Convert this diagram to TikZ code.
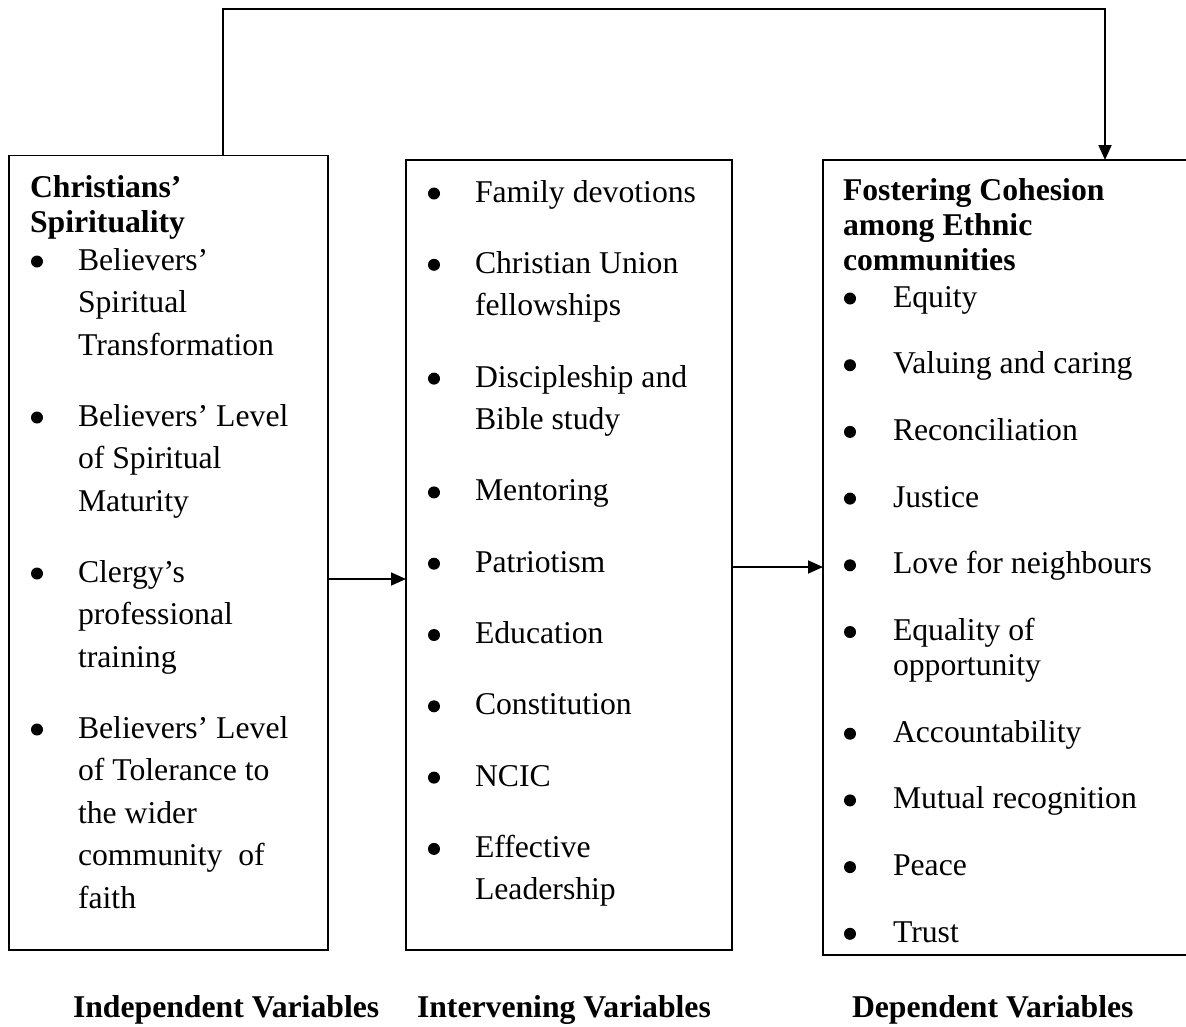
\documentclass[tikz,border=0pt]{standalone}
\usepackage{fontspec}
\setmainfont{Liberation Serif}
\usetikzlibrary{arrows.meta}
\begin{document}
\begin{tikzpicture}[x=1pt,y=-1pt,
  box/.style={draw=black, line width=1.8pt, inner sep=0pt, outer sep=0pt},
  txt/.style={anchor=base west, inner sep=0pt, outer sep=0pt, font=\fontsize{31.7pt}{42.5pt}\selectfont},
  hd/.style={txt, font=\fontsize{31.7pt}{35pt}\selectfont\bfseries},
  dot/.style={circle, fill=black, inner sep=0pt, minimum size=12pt},
  arr/.style={-{Triangle[length=15pt,width=13pt]}, line width=1.8pt}]
\useasboundingbox (0,0) rectangle (1186,1026);
\clip (0,0) rectangle (1186,1026);

% boxes
\node[box, minimum width=319pt, minimum height=794.5pt] (box1) at (168.5,552.75) {};
\node[box, minimum width=326pt, minimum height=790pt] (box2) at (569,555) {};
\node[box, minimum width=369pt, minimum height=795pt] (box3) at (1007.5,557.5) {};

% connectors
\coordinate (tl) at (223,9);
\coordinate (tr) at (1105,9);
\draw[arr] (box1.north -| tl) -- (tl) -- (tr) -- (box3.north -| tr);
\coordinate (ya) at (0,579);
\draw[arr] (box1.east |- ya) -- (box2.west |- ya);
\coordinate (yb) at (0,567);
\draw[arr] (box2.east |- yb) -- (box3.west |- yb);

% box 1
\node[hd] (h1a) at (30,197) {Christians’};
\node[hd] (h1b) at (30,232) {Spirituality};
\node[dot] (p1) at (37,261.5) {};
\node[txt] (a1) at (78,270) {Believers’};
\node[txt] (a2) at (78,312.5) {Spiritual};
\node[txt] (a3) at (78,355) {Transformation};
\node[dot] (p2) at (37,417.5) {};
\node[txt] (b1) at (78,426) {Believers’ Level};
\node[txt] (b2) at (78,468.5) {of Spiritual};
\node[txt] (b3) at (78,511) {Maturity};
\node[dot] (p3) at (37,573.5) {};
\node[txt] (c1) at (78,582) {Clergy’s};
\node[txt] (c2) at (78,624.5) {professional};
\node[txt] (c3) at (78,667) {training};
\node[dot] (p4) at (37,729.5) {};
\node[txt] (d1) at (78,738) {Believers’ Level};
\node[txt] (d2) at (78,780.5) {of Tolerance to};
\node[txt] (d3) at (78,823) {the wider};
\node[txt] (d4) at (78,865.5) {community\ \ of};
\node[txt] (d5) at (78,908) {faith};

% box 2
\node[dot] (q1) at (434,193.5) {};
\node[txt] (e1) at (475,202) {Family devotions};
\node[dot] (q2) at (434,264.8) {};
\node[txt] (f1) at (475,273.3) {Christian Union};
\node[txt] (f2) at (475,315.8) {fellowships};
\node[dot] (q3) at (434,378.6) {};
\node[txt] (g1) at (475,387.1) {Discipleship and};
\node[txt] (g2) at (475,429.6) {Bible study};
\node[dot] (q4) at (434,492.4) {};
\node[txt] (i1) at (475,500.9) {Mentoring};
\node[dot] (q5) at (434,563.7) {};
\node[txt] (j1) at (475,572.2) {Patriotism};
\node[dot] (q6) at (434,635) {};
\node[txt] (k1) at (475,643.5) {Education};
\node[dot] (q7) at (434,706.3) {};
\node[txt] (l1) at (475,714.8) {Constitution};
\node[dot] (q8) at (434,777.6) {};
\node[txt] (m1) at (475,786.1) {NCIC};
\node[dot] (q9) at (434,848.9) {};
\node[txt] (n1) at (475,857.4) {Effective};
\node[txt] (n2) at (475,899.9) {Leadership};

% box 3
\node[hd] (h3a) at (843,200) {Fostering Cohesion};
\node[hd] (h3b) at (843,235) {among Ethnic};
\node[hd] (h3c) at (843,270) {communities};
\node[dot] (r1) at (850,298.5) {};
\node[txt] (s1) at (893,307) {Equity};
\node[dot] (r2) at (850,365.2) {};
\node[txt] (s2) at (893,373.7) {Valuing and caring};
\node[dot] (r3) at (850,431.9) {};
\node[txt] (s3) at (893,440.4) {Reconciliation};
\node[dot] (r4) at (850,498.6) {};
\node[txt] (s4) at (893,507.1) {Justice};
\node[dot] (r5) at (850,565.3) {};
\node[txt] (s5) at (893,573.8) {Love for neighbours};
\node[dot] (r6) at (850,632) {};
\node[txt] (s6) at (893,640.5) {Equality of};
\node[txt] (s6b) at (893,675.5) {opportunity};
\node[dot] (r7) at (850,733.7) {};
\node[txt] (s7) at (893,742.2) {Accountability};
\node[dot] (r8) at (850,800.4) {};
\node[txt] (s8) at (893,808.9) {Mutual recognition};
\node[dot] (r9) at (850,867.1) {};
\node[txt] (s9) at (893,875.6) {Peace};
\node[dot] (r10) at (850,933.8) {};
\node[txt] (s10) at (893,942.3) {Trust};

% bottom labels
\node[hd] (lab1) at (73,1017) {Independent Variables};
\node[hd] (lab2) at (417,1017) {Intervening Variables};
\node[hd] (lab3) at (852,1017) {Dependent Variables};
\end{tikzpicture}
\end{document}
